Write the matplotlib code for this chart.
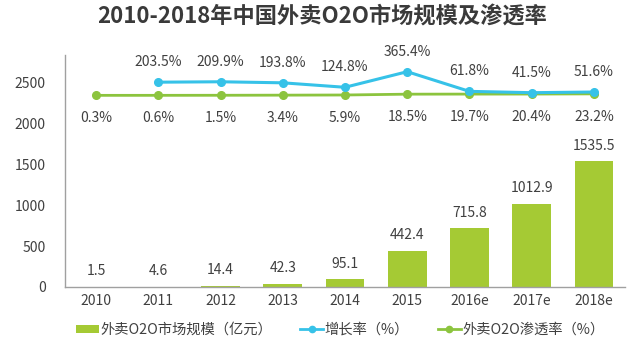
import matplotlib
matplotlib.use("Agg")
import matplotlib.pyplot as plt
from matplotlib.lines import Line2D
from matplotlib.patches import Patch

plt.rcParams['font.family'] = ['Noto Sans CJK SC', 'DejaVu Sans']

years = ['2010', '2011', '2012', '2013', '2014', '2015', '2016e', '2017e', '2018e']
market_size = [1.5, 4.6, 14.4, 42.3, 95.1, 442.4, 715.8, 1012.9, 1535.5]
growth_rate = [None, 203.5, 209.9, 193.8, 124.8, 365.4, 61.8, 41.5, 51.6]
penetration = [0.3, 0.6, 1.5, 3.4, 5.9, 18.5, 19.7, 20.4, 23.2]
yticks = [0, 500, 1000, 1500, 2000, 2500]

title = '2010-2018年中国外卖O2O市场规模及渗透率'
legend_labels = ['外卖O2O市场规模（亿元）', '增长率（%）', '外卖O2O渗透率（%）']

bar_color = '#A5CA34'
blue = '#36C2E8'
green = '#8CC43E'
text_color = '#404040'

fig = plt.figure(figsize=(6.44, 3.55), dpi=100)
ax = fig.add_axes([65/644, 1-287/355, 560/644, 232/355])
x = list(range(len(years)))

ax.bar(x, market_size, width=0.62, color=bar_color, zorder=2)
ax.set_xlim(-0.5, len(years)-0.5)
ax.set_ylim(0, 2830)
ax.set_yticks(yticks)
ax.set_xticks(x)
ax.set_xticklabels(years)
ax.tick_params(axis='y', length=0, pad=14, labelsize=10, labelcolor=text_color)
ax.tick_params(axis='x', length=0, pad=5, labelsize=10, labelcolor=text_color)
for s in ['top', 'right']:
    ax.spines[s].set_visible(False)
for s in ['left', 'bottom']:
    ax.spines[s].set_color('#A0A0A0')
    ax.spines[s].set_linewidth(1.0)

for xi, v in zip(x, market_size):
    ax.annotate(f'{v}', (xi, v), xytext=(0, 11.2), textcoords='offset points',
                ha='center', va='center', fontsize=10, color=text_color)

ax2 = ax.twinx()
ax2.set_ylim(-2957, 623)
ax2.axis('off')

gx = [xi for xi, g in zip(x, growth_rate) if g is not None]
gv = [g for g in growth_rate if g is not None]
ax2.plot(x, penetration, color=green, lw=2.0, marker='o', ms=5.5, zorder=3)
ax2.plot(gx, gv, color=blue, lw=2.2, marker='o', ms=5.5, zorder=4)

for xi, g in zip(gx, gv):
    ax2.annotate(f'{g}%', (xi, g), xytext=(0, 14.4), textcoords='offset points',
                 ha='center', va='center', fontsize=10, color=text_color)
for xi, p in zip(x, penetration):
    ax2.annotate(f'{p}%', (xi, p), xytext=(0, -16.5), textcoords='offset points',
                 ha='center', va='center', fontsize=10, color=text_color)

fig.text(0.5, 1-17/355, title, ha='center', va='center', fontsize=16,
         fontweight='bold', color='#3A3A3A')

handles = [
    Patch(facecolor=bar_color, edgecolor='none'),
    Line2D([0], [0], color=blue, lw=2, marker='o', ms=4.5),
    Line2D([0], [0], color=green, lw=2, marker='o', ms=4.5),
]
leg = fig.legend(handles, legend_labels, loc='center', bbox_to_anchor=(340/644, 1-330/355),
                 ncol=3, frameon=False, fontsize=10.3, handlelength=1.6, handleheight=0.5,
                 handletextpad=0.1, columnspacing=2.0)
for t in leg.get_texts():
    t.set_color(text_color)

fig.savefig('out.png', dpi=100)
